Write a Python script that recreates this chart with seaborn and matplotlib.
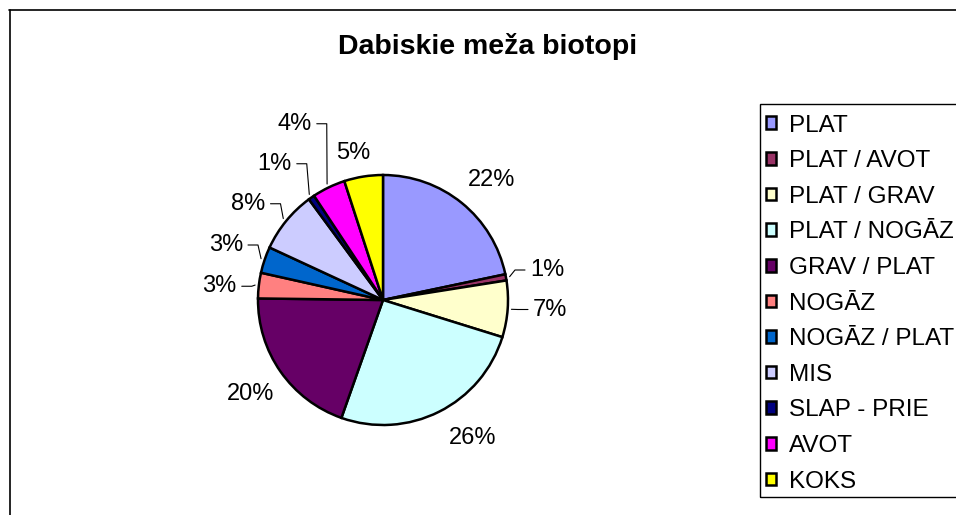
import matplotlib
matplotlib.use("Agg")
import numpy as np
import matplotlib.pyplot as plt
from matplotlib.patches import Patch, Rectangle
from matplotlib.lines import Line2D
import seaborn as sns

categories = ["PLAT", "PLAT / AVOT", "PLAT / GRAV", "PLAT / NOGĀZ", "GRAV / PLAT",
              "NOGĀZ", "NOGĀZ / PLAT", "MIS", "SLAP - PRIE", "AVOT", "KOKS"]
shares = [21.7, 0.8, 7.3, 25.6, 19.8, 3.3, 3.4, 8.0, 0.8, 4.3, 5.0]
colors = ["#9999FF", "#993366", "#FFFFCC", "#CCFFFF", "#660066", "#FF8080",
          "#0066CC", "#CCCCFF", "#000080", "#FF00FF", "#FFFF00"]

# where each % label sits (pie radius = 1): x, y, alignment, leader line?
label_pos = [
    (0.87, 0.96, "center", False),
    (1.176, 0.24, "left", True),
    (1.20, -0.076, "left", True),
    (0.72, -1.10, "center", False),
    (-1.06, -0.75, "center", False),
    (-1.17, 0.11, "right", True),
    (-1.12, 0.44, "right", True),
    (-0.94, 0.77, "right", True),
    (-0.73, 1.09, "right", True),
    (-0.57, 1.41, "right", True),
    (-0.24, 1.18, "center", False),
]

sns.set_theme(style="white")
plt.rcParams["font.family"] = ["Liberation Sans", "DejaVu Sans"]
plt.rcParams["text.color"] = "black"
pal = sns.color_palette(colors)

W, H = 956, 515
fig = plt.figure(figsize=(W / 100, H / 100), dpi=100)
fig.patch.set_facecolor("white")

# pie area: centre (383, 300), radius 125 px
ax = fig.add_axes([258 / W, (H - 425) / H, 250 / W, 250 / H])
wedges, _ = ax.pie(shares, colors=pal, startangle=90, counterclock=False,
                   wedgeprops=dict(edgecolor="black", linewidth=1.8))
ax.set_xlim(-1, 1)
ax.set_ylim(-1, 1)
ax.axis("off")

total = sum(shares)
for w, v, (tx, ty, ha, leader) in zip(wedges, shares, label_pos):
    ax.text(tx, ty, f"{round(v / total * 100)}%", ha=ha, va="center",
            fontsize=17, color="black", clip_on=False)
    if leader:
        mid = np.deg2rad((w.theta1 + w.theta2) / 2)
        sx, sy = 1.03 * np.cos(mid), 1.03 * np.sin(mid)
        sign = 1 if ha == "right" else -1
        ex = tx + sign * 0.04
        bx = tx + sign * 0.12
        ax.plot([sx, bx, ex], [sy, ty, ty], color="black", lw=0.8, clip_on=False)

fig.text(488 / W, 1 - 47 / H, "Dabiskie meža biotopi", ha="center", va="center",
         fontsize=20.5, fontweight="bold", color="black")

# chart frame (cut by the image edges)
fig.add_artist(Line2D([9 / W, 1], [1 - 9.5 / H] * 2, color="black", lw=1.2))
fig.add_artist(Line2D([9.5 / W] * 2, [0, 1 - 9.5 / H], color="black", lw=1.2))

# legend box
fig.add_artist(Rectangle((760 / W, (H - 497) / H), 0.5, 393 / H, fill=False,
                         edgecolor="black", lw=1.0))
handles = [Patch(facecolor=c, edgecolor="black", linewidth=1.8) for c in pal]
fig.legend(handles, categories, loc="upper left",
           bbox_to_anchor=(766 / W, 1 - 114.5 / H), frameon=False, fontsize=17.5,
           handlelength=0.43, handleheight=0.43, handletextpad=0.5,
           labelspacing=0.56, borderpad=0, borderaxespad=0)

fig.savefig("out.png", dpi=100)
